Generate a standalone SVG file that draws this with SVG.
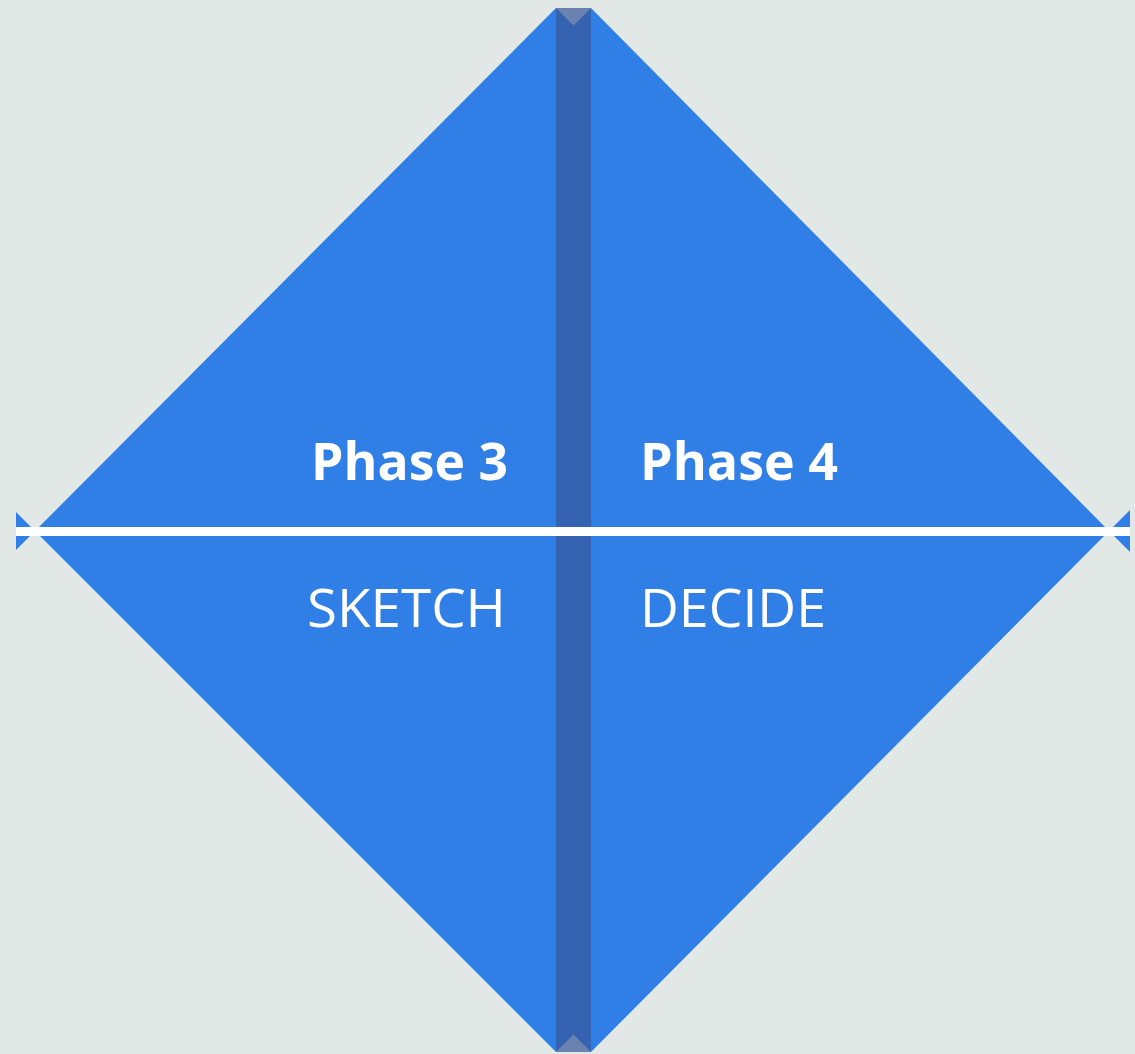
<svg xmlns="http://www.w3.org/2000/svg" width="1135" height="1054" viewBox="0 0 1135 1054">
<style>
.tri{fill:#2f7fe6}
.strip{fill:#38579a;fill-opacity:0.7}
.title{font-family:"Open Sans","Liberation Sans",sans-serif;font-weight:700;font-size:52px;fill:#ffffff}
.sub{font-family:"Open Sans","Liberation Sans",sans-serif;font-weight:400;font-size:53px;fill:#ffffff}
</style>
<rect x="0" y="0" width="1135" height="1054" fill="#e1e8e5"/>
<g id="phase3">
<polygon class="tri" points="35,531 556,8 591,43 591,1017 556,1052"/>
<polygon class="tri" points="16,512 35,531 16,550"/>
</g>
<g id="phase4">
<polygon class="tri" points="1109,531 591,8 556,43 556,1017 591,1052"/>
<polygon class="tri" points="1130,510 1109,531 1130,552"/>
</g>
<g id="connectors">
<rect class="strip" x="556" y="8" width="35" height="1044"/>
<rect x="16" y="527" width="1114" height="9" fill="#ffffff"/>
</g>
<g id="labels">
<text class="title" x="311" y="480" textLength="197" lengthAdjust="spacingAndGlyphs">Phase 3</text>
<text class="sub" x="307" y="627" textLength="199" lengthAdjust="spacingAndGlyphs">SKETCH</text>
<text class="title" x="640" y="480" textLength="198" lengthAdjust="spacingAndGlyphs">Phase 4</text>
<text class="sub" x="640" y="627" textLength="186" lengthAdjust="spacingAndGlyphs">DECIDE</text>
</g>
</svg>
